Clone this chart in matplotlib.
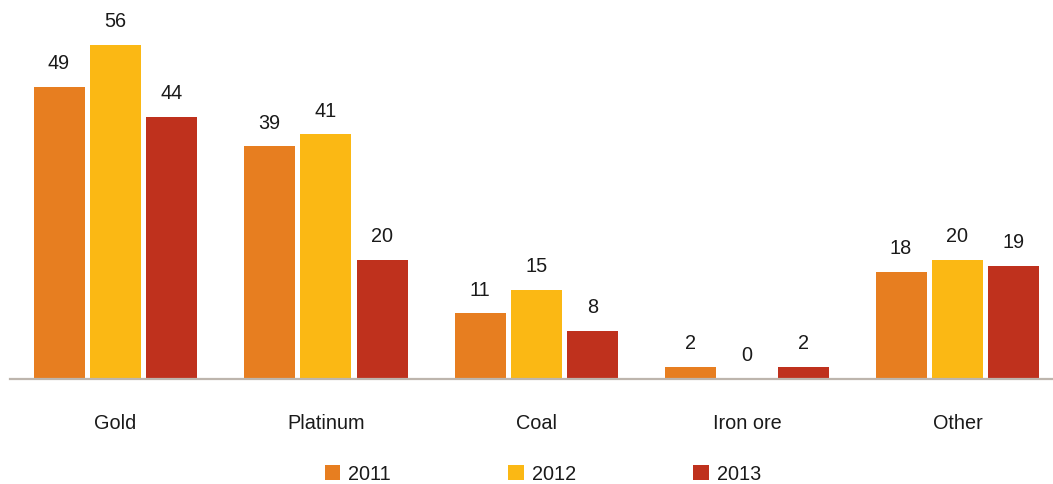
import matplotlib
matplotlib.use("Agg")
import matplotlib.pyplot as plt
from matplotlib.patches import Patch
import numpy as np

plt.rcParams['font.family'] = ['Liberation Sans', 'DejaVu Sans']

categories = ["Gold", "Platinum", "Coal", "Iron ore", "Other"]
years = ["2011", "2012", "2013"]
values_2011 = [49, 39, 11, 2, 18]
values_2012 = [56, 41, 15, 0, 20]
values_2013 = [44, 20, 8, 2, 19]
series = [values_2011, values_2012, values_2013]
colors = ["#E77E20", "#FBB814", "#BF311D"]

W, H, DPI = 1053, 484, 100
fig = plt.figure(figsize=(W / DPI, H / DPI), dpi=DPI)
ax = fig.add_axes([10 / W, 105 / H, 1043 / W, 379 / H])

x = np.arange(len(categories))
step = 0.268
width = 0.2423
fs = 14.3

for k, (vals, col) in enumerate(zip(series, colors)):
    pos = x + (k - 1) * step
    bars = ax.bar(pos, vals, width=width, color=col, linewidth=0, zorder=2)
    for b, v in zip(bars, vals):
        ax.annotate(f"{v}", (b.get_x() + b.get_width() / 2, v),
                    xytext=(0, 10), textcoords="offset points",
                    ha="center", va="bottom", fontsize=fs, color="#1a1a1a")

ax.set_xlim(-0.501, 4.454)
ax.set_ylim(0, 63.55)
for s in ("top", "right", "left"):
    ax.spines[s].set_visible(False)
ax.spines["bottom"].set_color("#BDB5AD")
ax.spines["bottom"].set_linewidth(1.6)
ax.spines["bottom"].set_zorder(3)
ax.set_yticks([])
ax.set_xticks(x)
ax.set_xticklabels(categories, fontsize=fs, color="#1a1a1a")
ax.tick_params(axis="x", length=0, pad=25.5)

handles = [Patch(facecolor=c, edgecolor="none", label=y) for c, y in zip(colors, years)]
fig.legend(handles=handles, ncol=3, loc="center",
           bbox_to_anchor=(543 / W, 1 - 474 / H), frameon=False,
           fontsize=fs, handlelength=0.8, handleheight=0.8,
           handletextpad=0.4, columnspacing=5.9, labelcolor="#1a1a1a")

fig.savefig("out.png", dpi=DPI)
